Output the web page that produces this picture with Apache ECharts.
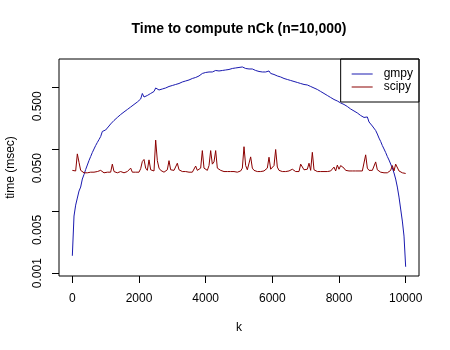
<!DOCTYPE html>
<html>
<head>
<meta charset="utf-8">
<script src="https://cdn.jsdelivr.net/npm/echarts@6/dist/echarts.min.js"></script>
<style>
html, body { margin: 0; padding: 0; background: #fff; }
#chart { width: 450px; height: 350px; }
</style>
</head>
<body>
<div id="chart"></div>
<script>
// k values at which nCk (n = 10,000) was timed
const kValues = [
  0, 50, 100, 150, 200, 250, 300, 350, 400, 450, 500, 550, 600, 650, 700, 750, 800, 850, 900, 950,
  1000, 1050, 1100, 1150, 1200, 1250, 1300, 1350, 1400, 1450, 1500, 1550, 1600, 1650, 1700, 1750, 1800, 1850, 1900, 1950,
  2000, 2050, 2100, 2150, 2200, 2250, 2300, 2350, 2400, 2450, 2500, 2550, 2600, 2650, 2700, 2750, 2800, 2850, 2900, 2950,
  3000, 3050, 3100, 3150, 3200, 3250, 3300, 3350, 3400, 3450, 3500, 3550, 3600, 3650, 3700, 3750, 3800, 3850, 3900, 3950,
  4000, 4050, 4100, 4150, 4200, 4250, 4300, 4350, 4400, 4450, 4500, 4550, 4600, 4650, 4700, 4750, 4800, 4850, 4900, 4950,
  5000, 5050, 5100, 5150, 5200, 5250, 5300, 5350, 5400, 5450, 5500, 5550, 5600, 5650, 5700, 5750, 5800, 5850, 5900, 5950,
  6000, 6050, 6100, 6150, 6200, 6250, 6300, 6350, 6400, 6450, 6500, 6550, 6600, 6650, 6700, 6750, 6800, 6850, 6900, 6950,
  7000, 7050, 7100, 7150, 7200, 7250, 7300, 7350, 7400, 7450, 7500, 7550, 7600, 7650, 7700, 7750, 7800, 7850, 7900, 7950,
  8000, 8050, 8100, 8150, 8200, 8250, 8300, 8350, 8400, 8450, 8500, 8550, 8600, 8650, 8700, 8750, 8800, 8850, 8900, 8950,
  9000, 9050, 9100, 9150, 9200, 9250, 9300, 9350, 9400, 9450, 9500, 9550, 9600, 9650, 9700, 9750, 9800, 9850, 9900, 9950,
  10000
];

// gmpy timings (msec)
const gmpyMs = [
  0.00191, 0.0084, 0.0126, 0.0164, 0.0213, 0.0247, 0.0333, 0.0394, 0.0475, 0.0561,
  0.0664, 0.0770, 0.0894, 0.102, 0.116, 0.130, 0.145, 0.162, 0.196, 0.192,
  0.207, 0.223, 0.240, 0.259, 0.279, 0.295, 0.312, 0.330, 0.348, 0.368,
  0.382, 0.405, 0.420, 0.444, 0.461, 0.487, 0.506, 0.535, 0.555, 0.587,
  0.621, 0.656, 0.806, 0.707, 0.721, 0.748, 0.776, 0.806, 0.836, 0.868,
  0.989, 0.971, 0.918, 0.935, 0.953, 0.971, 0.989, 1.007, 1.046, 1.065,
  1.085, 1.106, 1.127, 1.148, 1.169, 1.191, 1.237, 1.260, 1.284, 1.308,
  1.332, 1.357, 1.409, 1.435, 1.462, 1.518, 1.547, 1.606, 1.698, 1.635,
  1.762, 1.730, 1.795, 1.898, 1.795, 1.829, 1.898, 1.829, 1.863, 1.898,
  1.898, 1.934, 1.934, 1.970, 1.970, 2.007, 2.045, 2.045, 2.084, 2.123,
  2.123, 2.139, 2.163, 2.123, 2.045, 2.084, 2.007, 1.970, 2.007, 1.934,
  1.898, 1.898, 1.829, 1.829, 1.795, 1.762, 1.795, 1.730, 1.863, 1.698,
  1.795, 1.635, 1.606, 1.547, 1.518, 1.490, 1.462, 1.409, 1.409, 1.357,
  1.332, 1.308, 1.284, 1.260, 1.237, 1.214, 1.260, 1.169, 1.148, 1.127,
  1.127, 1.106, 1.148, 1.046, 1.007, 0.989, 0.953, 0.935, 0.901, 0.868,
  0.836, 0.806, 0.776, 0.748, 0.721, 0.694, 0.669, 0.644, 0.621, 0.609,
  0.598, 0.566, 0.545, 0.535, 0.515, 0.496, 0.478, 0.452, 0.436, 0.420,
  0.405, 0.390, 0.368, 0.355, 0.342, 0.330, 0.312, 0.336, 0.279, 0.259,
  0.240, 0.249, 0.203, 0.178, 0.153, 0.135, 0.116, 0.102, 0.0894, 0.0770,
  0.0676, 0.0583, 0.0502, 0.0417, 0.0333, 0.0247, 0.0170, 0.0109, 0.00697, 0.00398,
  0.00127
];

// scipy timings (msec)
const scipyMs = [
  0.046, 0.044, 0.045, 0.085, 0.062, 0.046, 0.043, 0.042, 0.043, 0.042,
  0.043, 0.043, 0.042, 0.043, 0.043, 0.044, 0.043, 0.046, 0.043, 0.042,
  0.043, 0.043, 0.042, 0.043, 0.058, 0.044, 0.043, 0.042, 0.043, 0.044,
  0.043, 0.042, 0.043, 0.044, 0.043, 0.050, 0.043, 0.044, 0.043, 0.045,
  0.043, 0.049, 0.064, 0.069, 0.050, 0.046, 0.068, 0.047, 0.044, 0.045,
  0.142, 0.066, 0.050, 0.046, 0.044, 0.043, 0.044, 0.047, 0.066, 0.047,
  0.045, 0.046, 0.044, 0.060, 0.047, 0.045, 0.044, 0.043, 0.044, 0.043,
  0.043, 0.044, 0.043, 0.044, 0.054, 0.046, 0.045, 0.050, 0.096, 0.050,
  0.047, 0.046, 0.055, 0.096, 0.058, 0.063, 0.096, 0.050, 0.047, 0.046,
  0.045, 0.044, 0.045, 0.044, 0.045, 0.044, 0.043, 0.044, 0.044, 0.043,
  0.044, 0.045, 0.050, 0.111, 0.055, 0.047, 0.050, 0.076, 0.050, 0.046,
  0.045, 0.044, 0.045, 0.044, 0.044, 0.045, 0.044, 0.050, 0.075, 0.048,
  0.046, 0.055, 0.100, 0.052, 0.046, 0.045, 0.044, 0.045, 0.044, 0.046,
  0.045, 0.044, 0.048, 0.045, 0.044, 0.045, 0.044, 0.058, 0.060, 0.047,
  0.045, 0.048, 0.060, 0.046, 0.090, 0.047, 0.045, 0.044, 0.045, 0.044,
  0.046, 0.044, 0.045, 0.044, 0.047, 0.045, 0.044, 0.052, 0.045, 0.056,
  0.048, 0.055, 0.057, 0.050, 0.046, 0.047, 0.045, 0.046, 0.045, 0.044,
  0.045, 0.046, 0.045, 0.044, 0.045, 0.047, 0.082, 0.050, 0.046, 0.045,
  0.046, 0.047, 0.063, 0.047, 0.044, 0.043, 0.043, 0.042, 0.042, 0.042,
  0.043, 0.046, 0.055, 0.045, 0.058, 0.060, 0.045, 0.043, 0.042, 0.042,
  0.041
];

const seriesNames = ['gmpy', 'scipy'];
const xTickValues = [0, 2000, 4000, 6000, 8000, 10000];
const yTickMarks = [0.001, 0.01, 0.1, 1];
const yTickLabels = [0.001, 0.005, 0.05, 0.5];

const Y_MIN = 0.0009;
const Y_MAX = 2.91;

const FONT = "'Liberation Sans', Arial, Helvetica, sans-serif";

const chart = echarts.init(document.getElementById('chart'), null, { renderer: 'canvas' });

chart.setOption({
  animation: false,
  backgroundColor: '#ffffff',
  textStyle: { fontFamily: FONT },
  title: {
    text: 'Time to compute nCk (n=10,000)',
    left: 239,
    top: 22,
    padding: 0,
    textAlign: 'center',
    textStyle: { fontFamily: FONT, fontSize: 14, fontWeight: 'bold', color: '#000' }
  },
  legend: {
    data: seriesNames,
    orient: 'vertical',
    right: 31,
    top: 59,
    padding: [9, 6, 9, 11],
    itemGap: 1,
    itemWidth: 21,
    itemHeight: 1,
    icon: 'rect',
    borderColor: '#000',
    borderWidth: 1,
    borderRadius: 0,
    textStyle: { fontFamily: FONT, fontSize: 12, color: '#000', lineHeight: 12, padding: [0, 0, 0, 6] }
  },
  grid: {
    left: 59,
    top: 59,
    width: 360,
    height: 217,
    outerBoundsMode: 'none',
    containLabel: false,
    show: true,
    borderColor: '#000',
    borderWidth: 1,
    backgroundColor: 'transparent'
  },
  xAxis: {
    type: 'value',
    min: -400,
    max: 10400,
    name: 'k',
    nameLocation: 'middle',
    nameGap: 46,
    nameTextStyle: { fontFamily: FONT, fontSize: 12, color: '#000' },
    axisLine: { show: false, onZero: false },
    axisTick: { show: true, customValues: xTickValues, length: 7, lineStyle: { color: '#000' } },
    axisLabel: {
      customValues: xTickValues,
      margin: 17,
      fontFamily: FONT, fontSize: 12, color: '#000',
      formatter: v => String(v)
    },
    splitLine: { show: false }
  },
  yAxis: {
    type: 'log',
    logBase: 10,
    min: Y_MIN,
    max: Y_MAX,
    name: 'time (msec)',
    nameLocation: 'middle',
    nameRotate: 90,
    nameGap: 42,
    nameTextStyle: { fontFamily: FONT, fontSize: 12, color: '#000' },
    axisLine: { show: false, onZero: false },
    axisTick: { show: true, customValues: yTickMarks, length: 7, lineStyle: { color: '#000' } },
    axisLabel: { show: false },
    splitLine: { show: false }
  },
  series: [
    {
      name: seriesNames[0],
      type: 'line',
      data: kValues.map((k, i) => [k, gmpyMs[i]]),
      showSymbol: false,
      symbol: 'none',
      color: '#1a1ab0',
      lineStyle: { width: 1, color: '#1a1ab0' },
      emphasis: { disabled: true }
    },
    {
      name: seriesNames[1],
      type: 'line',
      data: kValues.map((k, i) => [k, scipyMs[i]]),
      showSymbol: false,
      symbol: 'none',
      color: '#8b0000',
      lineStyle: { width: 1, color: '#8b0000' },
      emphasis: { disabled: true }
    }
  ]
});

// Rotated y tick labels, centred on their values through the log axis scale
const gridLeft = chart.convertToPixel({ xAxisIndex: 0 }, -400);
chart.setOption({
  graphic: yTickLabels.map(v => ({
    type: 'text',
    x: gridLeft - 21,
    y: chart.convertToPixel({ yAxisIndex: 0 }, v),
    rotation: Math.PI / 2,
    silent: true,
    style: {
      text: v.toFixed(3),
      fontFamily: FONT,
      fontSize: 12,
      fill: '#000',
      align: 'center',
      verticalAlign: 'middle'
    }
  }))
});
</script>
</body>
</html>
